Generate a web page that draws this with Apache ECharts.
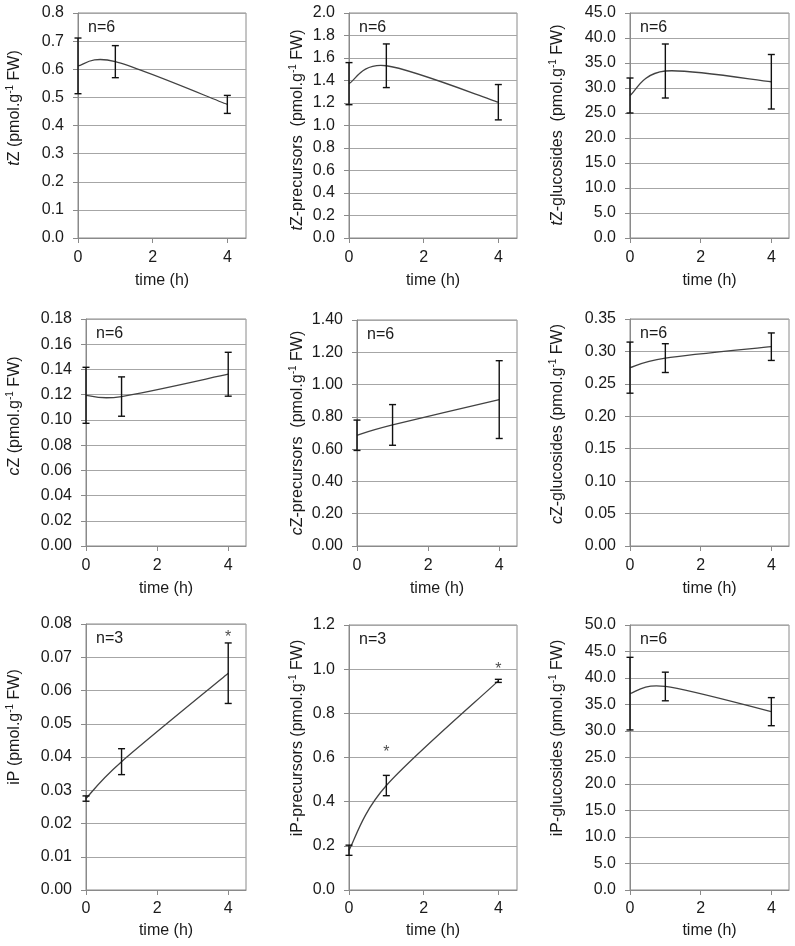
<!DOCTYPE html>
<html><head><meta charset="utf-8">
<script src="https://cdn.jsdelivr.net/npm/echarts@6/dist/echarts.min.js"></script>
<style>html,body{margin:0;padding:0;background:#fff}#c{width:795px;height:946px}</style>
</head><body><div id="c"></div>
<script>
// ---- data ----
const times = [0, 1, 4];
const xTickValues = [0, 2, 4];

const tZMean = [0.612, 0.627, 0.475];       const tZErr = [0.099, 0.057, 0.032];
const tZPrecMean = [1.372, 1.531, 1.207];   const tZPrecErr = [0.187, 0.194, 0.157];
const tZGlucMean = [28.5, 33.4, 31.25];     const tZGlucErr = [3.5, 5.4, 5.45];
const cZMean = [0.1195, 0.1185, 0.1362];    const cZErr = [0.0222, 0.0156, 0.0174];
const cZPrecMean = [0.686, 0.750, 0.907];   const cZPrecErr = [0.094, 0.126, 0.241];
const cZGlucMean = [0.275, 0.2897, 0.3073]; const cZGlucErr = [0.0394, 0.0222, 0.0212];
const iPMean = [0.0275, 0.0386, 0.0652];    const iPErr = [0.0008, 0.0039, 0.0091];
const iPPrecMean = [0.180, 0.473, 0.947];   const iPPrecErr = [0.023, 0.046, 0.007];
const iPGlucMean = [37.05, 38.4, 33.65];    const iPGlucErr = [6.85, 2.7, 2.65];

const iPStars = [[4, 0.0768]];
const iPPrecStars = [[1, 0.635], [4, 1.012]];

const yMax = [0.8, 2.0, 45, 0.18, 1.4, 0.35, 0.08, 1.2, 50];
const yStep = [0.1, 0.2, 5, 0.02, 0.2, 0.05, 0.01, 0.2, 5];
const yDecimals = [1, 1, 1, 2, 2, 2, 2, 1, 1];
const sampleLabels = ['n=6', 'n=6', 'n=6', 'n=6', 'n=6', 'n=6', 'n=3', 'n=3', 'n=6'];
const yNames = [
  '{i|t}{n|Z (pmol.g}{s|-1}{n| FW)}',
  '{i|t}{n|Z-precursors  (pmol.g}{s|-1}{n| FW)}',
  '{i|t}{n|Z-glucosides  (pmol.g}{s|-1}{n| FW)}',
  '{i|c}{n|Z (pmol.g}{s|-1}{n| FW)}',
  '{i|c}{n|Z-precursors  (pmol.g}{s|-1}{n| FW)}',
  '{i|c}{n|Z-glucosides (pmol.g}{s|-1}{n| FW)}',
  '{n|iP (pmol.g}{s|-1}{n| FW)}',
  '{n|iP-precursors (pmol.g}{s|-1}{n| FW)}',
  '{n|iP-glucosides (pmol.g}{s|-1}{n| FW)}'
];
const xName = 'time (h)';

const means = [tZMean, tZPrecMean, tZGlucMean, cZMean, cZPrecMean, cZGlucMean, iPMean, iPPrecMean, iPGlucMean];
const errs = [tZErr, tZPrecErr, tZGlucErr, cZErr, cZPrecErr, cZGlucErr, iPErr, iPPrecErr, iPGlucErr];
const stars = [[], [], [], [], [], [], iPStars, iPPrecStars, []];

// ---- layout ----
const layouts = [
  [78, 13, 168, 225], [349, 13, 168, 225], [630, 13, 159, 225],
  [86, 319, 160, 227], [357, 320, 160, 226], [630, 319, 159, 227],
  [86, 624, 160, 266], [349, 625, 168, 265], [630, 625, 159, 265]
];
const yNamePos = [[15,108],[298,130],[558,125],[15,416],[298,433],[558,424],[15,727],[298,738],[558,738]];
const xNameGap = [35,35,35,35,35,35,33,33,33];
const xLabelMargin = [12,12,12,12,12,12,11,11,11];

const FONT = 'Liberation Sans, Arial, sans-serif';
const TXT = '#1a1a1a';
const GRIDC = '#a6a6a6';
const AXC = '#8a8a8a';

// Excel-like smoothed segment (Catmull-Rom style bezier) drawn through the axes' scales
function smoothSegment(params, api) {
  const i = params.dataIndexInside;
  const n = params.dataInsideLength;
  if (i >= n - 1) return null;
  const P = j => {
    const jj = Math.max(0, Math.min(n - 1, j));
    return api.coord([api.value(0, jj), api.value(1, jj)]);
  };
  const p0 = P(i - 1), p1 = P(i), p2 = P(i + 1), p3 = P(i + 2);
  const f = 1 / 6;
  return {
    type: 'bezierCurve',
    shape: {
      x1: p1[0], y1: p1[1], x2: p2[0], y2: p2[1],
      cpx1: p1[0] + (p2[0] - p0[0]) * f, cpy1: p1[1] + (p2[1] - p0[1]) * f,
      cpx2: p2[0] - (p3[0] - p1[0]) * f, cpy2: p2[1] - (p3[1] - p1[1]) * f
    },
    style: {stroke: '#424242', lineWidth: 1.3, fill: null}
  };
}

const grid = [], xAxis = [], yAxis = [], series = [], graphic = [];
layouts.forEach((L, k) => {
  grid.push({left: L[0], top: L[1], width: L[2], height: L[3], show: true, borderColor: AXC, borderWidth: 1, containLabel: false});
  xAxis.push({
    type: 'value', gridIndex: k, min: 0, max: 4.5, interval: 2,
    name: xName, nameLocation: 'middle', nameGap: xNameGap[k],
    nameTextStyle: {fontFamily: FONT, fontSize: 16, color: TXT},
    axisLine: {show: true, lineStyle: {color: AXC, width: 1}},
    axisTick: {show: true, length: 5, lineStyle: {color: AXC}, customValues: xTickValues},
    axisLabel: {fontFamily: FONT, fontSize: 16, color: TXT, margin: xLabelMargin[k], customValues: xTickValues},
    splitLine: {show: false}
  });
  yAxis.push({
    type: 'value', gridIndex: k, min: 0, max: yMax[k], interval: yStep[k],
    axisLine: {show: true, lineStyle: {color: AXC, width: 1}},
    axisTick: {show: true, length: 5, lineStyle: {color: AXC}},
    axisLabel: {fontFamily: FONT, fontSize: 16, color: TXT, margin: 14,
      formatter: v => v.toFixed(yDecimals[k])},
    splitLine: {show: true, lineStyle: {color: GRIDC, width: 1}}
  });
  series.push({
    type: 'custom', xAxisIndex: k, yAxisIndex: k, z: 3,
    encode: {x: 0, y: 1},
    data: times.map((t, i) => [t, means[k][i]]),
    renderItem: smoothSegment
  });
  series.push({
    type: 'custom', xAxisIndex: k, yAxisIndex: k, z: 4,
    encode: {x: 0, y: [1, 2]},
    data: times.map((t, i) => [t, means[k][i] - errs[k][i], means[k][i] + errs[k][i]]),
    renderItem: (params, api) => {
      const x = api.value(0);
      const lo = api.coord([x, api.value(1)]);
      const hi = api.coord([x, api.value(2)]);
      const hw = 3.5;
      const st = {stroke: '#111', lineWidth: 1.4};
      return {type: 'group', children: [
        {type: 'line', shape: {x1: hi[0], y1: hi[1], x2: lo[0], y2: lo[1]}, style: st},
        {type: 'line', shape: {x1: hi[0]-hw, y1: hi[1], x2: hi[0]+hw, y2: hi[1]}, style: st},
        {type: 'line', shape: {x1: lo[0]-hw, y1: lo[1], x2: lo[0]+hw, y2: lo[1]}, style: st}
      ]};
    }
  });
  if (stars[k].length) {
    series.push({
      type: 'scatter', xAxisIndex: k, yAxisIndex: k, symbolSize: 0, z: 5,
      data: stars[k],
      label: {show: true, position: 'inside', formatter: '*', fontFamily: FONT, fontSize: 16, color: TXT, offset: [0, 3]}
    });
  }
  graphic.push({
    type: 'text', x: L[0] + 10, y: L[1] + 15,
    style: {text: sampleLabels[k], font: '16px ' + FONT, fill: TXT, align: 'left', verticalAlign: 'middle'}
  });
  graphic.push({
    type: 'text', x: yNamePos[k][0], y: yNamePos[k][1], rotation: Math.PI / 2,
    style: {
      text: yNames[k], align: 'center', verticalAlign: 'middle', fill: TXT,
      rich: {
        n: {fontFamily: FONT, fontSize: 16, lineHeight: 20, fill: TXT, color: TXT},
        i: {fontFamily: FONT, fontSize: 16, lineHeight: 20, fontStyle: 'italic', fill: TXT, color: TXT},
        s: {fontFamily: FONT, fontSize: 10, lineHeight: 10, verticalAlign: 'top', fill: TXT, color: TXT}
      }
    }
  });
});

const chart = echarts.init(document.getElementById('c'), null, {renderer: 'canvas'});
chart.setOption({animation: false, backgroundColor: '#fff', grid, xAxis, yAxis, series, graphic});
</script>
</body></html>
